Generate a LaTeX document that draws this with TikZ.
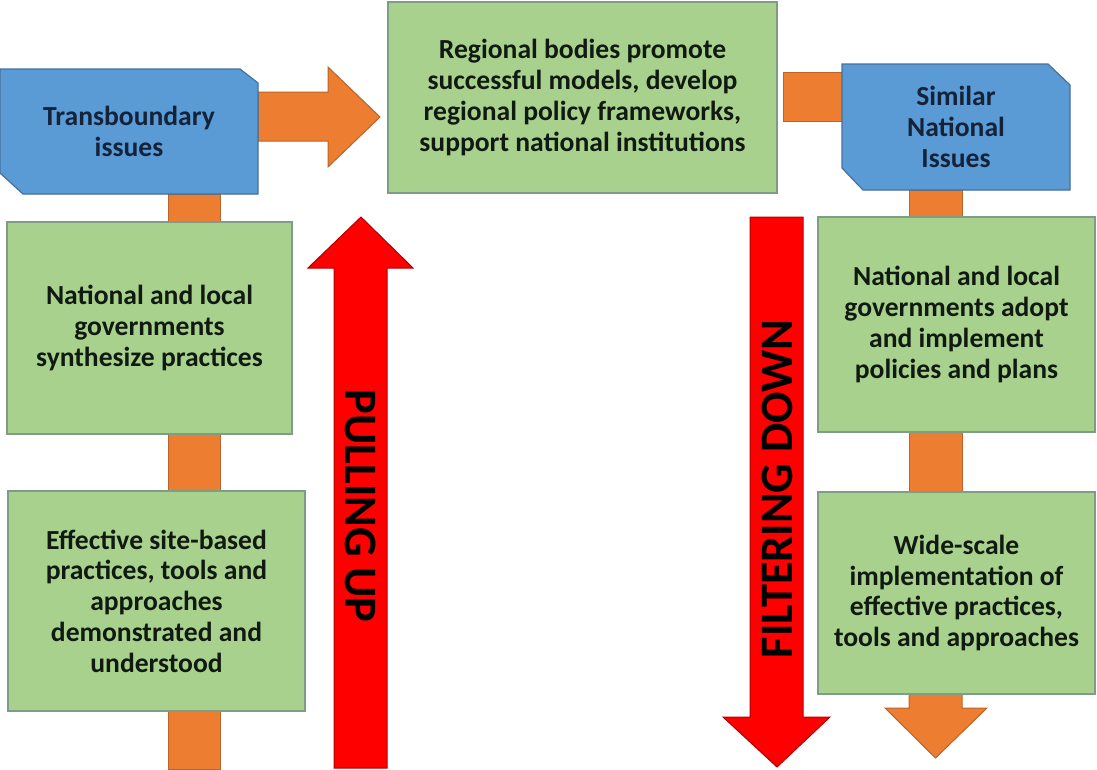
\documentclass[tikz,border=0pt]{standalone}
\usepackage{fontspec}
\setmainfont{Carlito}
\usetikzlibrary{backgrounds,calc}

\definecolor{boxgreen}{HTML}{A9D18E}
\definecolor{boxgreenline}{HTML}{7F9C84}
\definecolor{boxblue}{HTML}{5B9BD5}
\definecolor{boxblueline}{HTML}{41719C}
\definecolor{barorange}{HTML}{ED7D31}
\definecolor{barorangeline}{HTML}{B8642A}
\definecolor{arrowred}{HTML}{FF0000}
\definecolor{arrowredline}{HTML}{B00000}
\definecolor{labeltext}{HTML}{111A11}
\definecolor{labelblue}{HTML}{14233A}

\tikzset{
  boxtext/.style={font=\fontsize{27.6}{30.8}\selectfont\bfseries, text=labeltext, align=center},
  greenbox/.style={boxtext, rectangle, draw=boxgreenline, fill=boxgreen, line width=1.2pt,
                   inner sep=0pt, outer sep=0pt, anchor=north west},
  bluebox/.style={boxtext, text=labelblue, rectangle, inner sep=0pt, outer sep=0pt, anchor=north west},
  bluefill/.style={fill=boxblue, draw=boxblueline, line width=1.2pt, line join=miter},
  orangebar/.style={fill=barorange, draw=barorangeline, line width=1pt, line join=miter},
  redarrow/.style={fill=arrowred, draw=arrowredline, line width=1pt, line join=miter},
  bigword/.style={font=\fontsize{46.5}{50}\selectfont\bfseries, text=black, inner sep=0pt},
}

\begin{document}
\begin{tikzpicture}[x=1pt, y=-1pt]
\useasboundingbox (0,0) rectangle (1097,769);

% ---- text boxes ----
\node[greenbox, minimum width=389pt, minimum height=191pt] (regional) at (388,2)
  {Regional bodies promote\\successful models, develop\\regional policy frameworks,\\support national institutions};
\node[greenbox, minimum width=285pt, minimum height=212pt] (synth) at (7,222)
  {National and local\\governments\\synthesize practices};
\node[greenbox, minimum width=297pt, minimum height=220pt] (site) at (8,491)
  {Effective site-based\\practices, tools and\\approaches\\demonstrated and\\understood};
\node[greenbox, minimum width=277pt, minimum height=215pt] (adopt) at (818,217)
  {National and local\\governments adopt\\and implement\\policies and plans};
\node[greenbox, minimum width=277pt, minimum height=202pt] (wide) at (818,492)
  {Wide-scale\\implementation of\\effective practices,\\tools and approaches};

\node[bluebox, minimum width=258pt, minimum height=125pt] (trans) at (0,69)
  {Transboundary\\issues};
\node[bluebox, minimum width=228pt, minimum height=126pt] (similar) at (842,64)
  {Similar\\National\\Issues};

% free ends
\coordinate (leftfoot) at (220,769);
\coordinate (pullbase) at (334,768);
\coordinate (filtertop) at (750,217);

\begin{scope}[on background layer]
  % orange links, left column
  \filldraw[orangebar] ([xshift=168pt]trans.south west) rectangle ([xshift=213pt]synth.north west);
  \filldraw[orangebar] ([xshift=161pt]synth.south west) rectangle ([xshift=212pt]site.north west);
  \filldraw[orangebar] ([xshift=160pt]site.south west) rectangle (leftfoot);
  % orange arrow towards the regional box
  \filldraw[orangebar] ([yshift=-23pt]trans.north east) -- ++(70,0) -- ++(0,-25) -- ++(52,50)
    -- ++(-52,50) -- ++(0,-26) -- ++(-70,0) -- cycle;
  % orange links, right column
  \filldraw[orangebar] ([xshift=6pt,yshift=-70pt]regional.north east) rectangle ([yshift=-57pt]similar.north west);
  \filldraw[orangebar] ([xshift=67pt]similar.south west) rectangle ([xshift=144pt]adopt.north west);
  \filldraw[orangebar] ([xshift=91pt]adopt.south west) rectangle ([xshift=144pt]wide.north west);
  \filldraw[orangebar] ([xshift=91pt]wide.south west) -- ++(0,14) -- ++(-24,0) -- ++(50.5,50)
    -- ++(51.5,-50) -- ++(-25,0) -- ++(0,-14) -- cycle;

  % blue boxes with snipped corners
  \filldraw[bluefill] (trans.north west) -- ([xshift=-18pt]trans.north east)
    -- ([yshift=-14pt]trans.north east) -- (trans.south east)
    -- ([xshift=23pt]trans.south west) -- ([yshift=21pt]trans.south west) -- cycle;
  \filldraw[bluefill] (similar.north west) -- ([xshift=-22pt]similar.north east)
    -- ([yshift=-21pt]similar.north east) -- (similar.south east)
    -- ([xshift=21pt]similar.south west) -- ([yshift=22pt]similar.south west) -- cycle;
\end{scope}

% big red arrows
\filldraw[redarrow] (pullbase) -- ++(0,-500) -- ++(-26,0) -- ++(53,-51) -- ++(52,51)
  -- ++(-26,0) -- ++(0,500) -- cycle;
\filldraw[redarrow] (filtertop) -- ++(0,500) -- ++(-27,0) -- ++(54,50) -- ++(53,-50)
  -- ++(-27,0) -- ++(0,-500) -- cycle;

\node[bigword, rotate=-90] (pull) at (361,506) {PULLING UP};
\node[bigword, rotate=90] (filter) at (777,489) {FILTERING DOWN};
\end{tikzpicture}
\end{document}
